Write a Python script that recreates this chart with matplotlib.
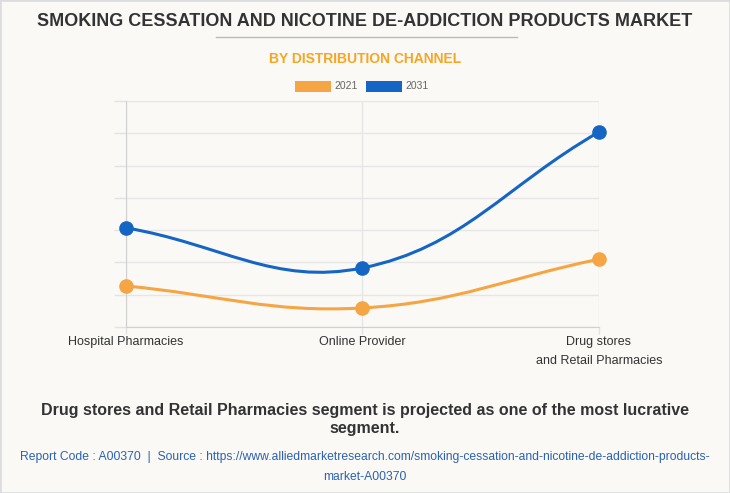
import numpy as np
import matplotlib
matplotlib.use('Agg')
import matplotlib.pyplot as plt
from matplotlib.path import Path
from matplotlib.patches import PathPatch, Rectangle
from matplotlib import font_manager

# data (arbitrary units, axis has no labels)
categories = ['Hospital Pharmacies', 'Online Provider', 'Drug stores\nand Retail Pharmacies']
years = ['2021', '2031']
values_2021 = [1.27, 0.59, 2.10]
values_2031 = [3.07, 1.83, 6.04]
colors = ['#F5A544', '#1565C4']

names = {f.name for f in font_manager.fontManager.ttflist}
body_font = 'Liberation Sans' if 'Liberation Sans' in names else 'DejaVu Sans'
plt.rcParams['font.family'] = [body_font, 'DejaVu Sans']

W, H = 730, 493
fig = plt.figure(figsize=(W / 100, H / 100), dpi=100, facecolor='#FAF9F5')
fig.patches.append(Rectangle((0, 0), 1, 1, transform=fig.transFigure, fill=False,
                             edgecolor='#DDDDDD', linewidth=2))

# plot area in pixels
x0, x1, ytop, ybot = 126, 599, 101, 327
ax = fig.add_axes([x0 / W, 1 - ybot / H, (x1 - x0) / W, (ybot - ytop) / H])
ax.set_facecolor('none')
ax.set_xlim(0, 2)
ax.set_ylim(0, 7)
ax.set_yticks(range(8))
ax.set_yticklabels([])
ax.set_xticks(range(3))
ax.set_xticklabels([])
ax.tick_params(axis='y', length=9, color='#E3E3E3', width=1)
ax.tick_params(axis='x', length=5, color='#E3E3E3', width=1)
ax.grid(True, color='#E6E6E6', linewidth=1)
for s in ['top', 'right']:
    ax.spines[s].set_visible(False)
ax.spines['left'].set_color('#D0D0D0')
ax.spines['bottom'].set_color('#D0D0D0')
ax.set_axisbelow(True)

px_x = (x1 - x0) / 2.0
px_y = (ybot - ytop) / 7.0


def spline_path(xs, ys, t=0.4):
    # chart.js style cardinal spline computed in pixel space
    P = np.array([[x * px_x, y * px_y] for x, y in zip(xs, ys)])
    n = len(P)
    verts = [P[0]]
    codes = [Path.MOVETO]
    cps = []
    for i in range(n):
        prev = P[max(i - 1, 0)]
        cur = P[i]
        nxt = P[min(i + 1, n - 1)]
        d01 = np.hypot(*(cur - prev))
        d12 = np.hypot(*(nxt - cur))
        tot = d01 + d12
        s01 = d01 / tot if tot else 0
        s12 = d12 / tot if tot else 0
        cps.append((cur - t * s01 * (nxt - prev), cur + t * s12 * (nxt - prev)))
    for i in range(n - 1):
        verts += [cps[i][1], cps[i + 1][0], P[i + 1]]
        codes += [Path.CURVE4] * 3
    verts = [(v[0] / px_x, v[1] / px_y) for v in verts]
    return Path(verts, codes)


xs = np.arange(len(categories))
for vals, c in zip([values_2021, values_2031], colors):
    ax.add_patch(PathPatch(spline_path(xs, vals), fill=False, edgecolor=c,
                           linewidth=2.2, zorder=3, clip_on=False))
    ax.plot(xs, vals, 'o', color=c, markersize=9.5, zorder=4, clip_on=False)

for x, lab in zip(xs, categories):
    ax.text(x, -0.28, lab, ha='center', va='top', fontsize=9, color='#333333',
            linespacing=1.75, transform=ax.transData)

# titles
fig.text(0.5, 1 - 21 / H, 'SMOKING CESSATION AND NICOTINE DE-ADDICTION PRODUCTS MARKET',
         ha='center', va='center', fontsize=13, fontweight='bold', color='#333333')
fig.add_artist(plt.Line2D([216 / W, 517 / W], [1 - 37 / H] * 2, color='#BBBBBB', linewidth=1))
fig.text(0.5, 1 - 59 / H, 'BY DISTRIBUTION CHANNEL', ha='center', va='center',
         fontsize=10, fontweight='bold', color='#F6A623')

# legend
for (lx, tx), c, yr in zip([(295, 334), (366, 405)], colors, years):
    fig.patches.append(Rectangle((lx / W, 1 - 92 / H), 36 / W, 11 / H,
                                 transform=fig.transFigure, facecolor=c, edgecolor='none'))
    fig.text(tx / W, 1 - 86 / H, yr, ha='left', va='center', fontsize=7.5,
             color='#666666')

fig.text(0.5, 1 - 419 / H, 'Drug stores and Retail Pharmacies segment is projected as one of the most lucrative\nsegment.',
         ha='center', va='center', fontsize=11.5, fontweight='bold', color='#333333',
         linespacing=1.25)
fig.text(0.5, 1 - 467 / H,
         'Report Code : A00370  |  Source : https://www.alliedmarketresearch.com/smoking-cessation-and-nicotine-de-addiction-products-\nmarket-A00370',
         ha='center', va='center', fontsize=8.7, color='#2A62B5', linespacing=1.95)

fig.savefig('out.png', dpi=100, facecolor=fig.get_facecolor())
